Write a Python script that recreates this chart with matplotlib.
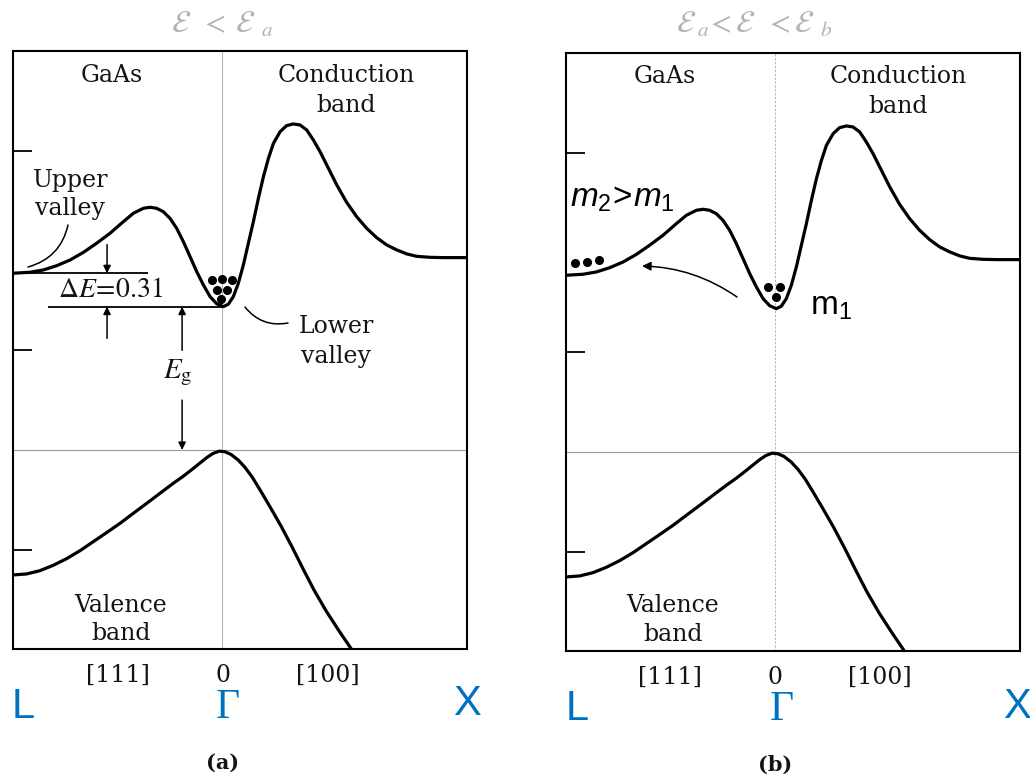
import matplotlib
matplotlib.use("Agg")
import matplotlib.pyplot as plt

W, H = 1030, 779

# k axis: L at -1, Gamma at 0 ; E in eV with the valence band top at 0
cond_k = [-1.000, -0.919, -0.855, -0.791, -0.727, -0.663, -0.600, -0.536, -0.472, -0.424,
          -0.376, -0.344, -0.313, -0.281, -0.249, -0.217, -0.185, -0.153, -0.121, -0.089,
          -0.057, -0.026, 0.006, 0.030, 0.054, 0.078, 0.102, 0.126, 0.150, 0.174,
          0.198, 0.222, 0.246, 0.278, 0.309, 0.341, 0.373, 0.405, 0.437, 0.469,
          0.509, 0.549, 0.596, 0.644, 0.692, 0.740, 0.788, 0.836, 0.884, 0.931,
          0.995, 1.059, 1.172]
cond_E = [1.773, 1.783, 1.806, 1.849, 1.906, 1.983, 2.074, 2.174, 2.291, 2.375,
          2.425, 2.435, 2.425, 2.391, 2.324, 2.224, 2.090, 1.940, 1.789, 1.655,
          1.538, 1.468, 1.438, 1.462, 1.538, 1.672, 1.856, 2.074, 2.291, 2.525,
          2.742, 2.926, 3.077, 3.194, 3.254, 3.271, 3.261, 3.211, 3.110, 2.993,
          2.826, 2.659, 2.485, 2.341, 2.224, 2.130, 2.057, 2.007, 1.967, 1.943,
          1.933, 1.930, 1.930]

val_k = [-1.000, -0.935, -0.871, -0.807, -0.743, -0.679, -0.616, -0.552, -0.488, -0.424,
         -0.360, -0.297, -0.233, -0.187, -0.144, -0.105, -0.072, -0.043, -0.014, 0.014,
         0.043, 0.077, 0.110, 0.144, 0.182, 0.230, 0.282, 0.335, 0.388, 0.440,
         0.498, 0.560, 0.622]
val_E = [-1.254, -1.244, -1.211, -1.157, -1.090, -1.010, -0.920, -0.829, -0.736, -0.635,
         -0.535, -0.435, -0.334, -0.266, -0.196, -0.130, -0.075, -0.035, -0.012, -0.018,
         -0.045, -0.100, -0.175, -0.271, -0.401, -0.572, -0.762, -0.973, -1.194, -1.405,
         -1.615, -1.816, -2.007]

# electrons
dots_a_k = [-0.048, 0.000, 0.048, -0.024, 0.024, -0.005]
dots_a_E = [1.706, 1.711, 1.706, 1.605, 1.605, 1.515]
dots_b_k = [-0.032, 0.024, 0.005, -0.957, -0.901, -0.841]
dots_b_E = [1.659, 1.659, 1.558, 1.893, 1.909, 1.926]

k_labels = ["[111]", "0", "[100]"]
sym_labels = ["L", "Γ", "X"]
energy_ticks = [-1, 1, 3]

E_upper = cond_E[0]
E_lower = min(cond_E)

SERIF = "DejaVu Serif"
BLUE = "#0070C0"
INK = "#141414"

plt.rcParams['mathtext.fontset'] = 'custom'
plt.rcParams['mathtext.rm'] = 'Liberation Sans'
plt.rcParams['mathtext.it'] = 'Liberation Sans:italic'

fig = plt.figure(figsize=(W / 100, H / 100), dpi=100)


def rect(left, top, right, bottom):
    return [left / W, 1 - bottom / H, (right - left) / W, (bottom - top) / H]


def ftext(x, y, s, **kw):
    kw.setdefault('ha', 'center')
    kw.setdefault('va', 'baseline')
    kw.setdefault('color', INK)
    return fig.text(x / W, 1 - y / H, s, **kw)


def setup(ax, dash):
    ax.set_xlim(-1.0, 1.172)
    ax.set_ylim(-2.0, 4.0)
    for s in ax.spines.values():
        s.set_linewidth(1.5)
    ax.set_xticks([])
    ax.set_yticks(energy_ticks)
    ax.tick_params(axis='y', direction='in', length=14, width=1.3, labelleft=False)
    ax.axvline(0, color='#b8b8b8', lw=0.8, ls=dash, zorder=1)
    ax.axhline(0, color='#9a9a9a', lw=0.8, zorder=1)
    ax.plot(cond_k, cond_E, color='black', lw=2.3, solid_joinstyle='round', zorder=3)
    ax.plot(val_k, val_E, color='black', lw=2.3, solid_joinstyle='round', zorder=3)


ax_a = fig.add_axes(rect(13, 51.3, 467, 649.3))
ax_b = fig.add_axes(rect(566, 53.3, 1020, 651.3))
setup(ax_a, '-')
setup(ax_b, (0, (2, 1.5)))

ax_a.plot(dots_a_k, dots_a_E, 'o', color='black', ms=5.5, zorder=4)
ax_b.plot(dots_b_k, dots_b_E, 'o', color='black', ms=5.5, zorder=4)

# ---- panel (a) annotations
ax_a.hlines(E_upper, -1.0, -0.354, color='black', lw=1.3)
ax_a.hlines(E_lower, -0.833, 0.01, color='black', lw=1.3)

arrow = dict(arrowstyle='-|>', lw=1.1, color='black', mutation_scale=11, shrinkA=0, shrinkB=0)
ax_a.annotate('', xy=(-0.550, E_upper), xytext=(-0.550, 2.06), arrowprops=arrow)
ax_a.annotate('', xy=(-0.550, E_lower), xytext=(-0.550, 1.12), arrowprops=arrow)
ax_a.annotate('', xy=(-0.191, E_lower), xytext=(-0.191, 1.00), arrowprops=arrow)
ax_a.annotate('', xy=(-0.191, 0.0), xytext=(-0.191, 0.50), arrowprops=arrow)

leader = dict(arrowstyle='-', lw=1.1, color='black', shrinkA=0, shrinkB=0)
fig_px = lambda x, y: (x, H - y)
ax_a.annotate('', xy=fig_px(28, 267), xytext=fig_px(68, 225), xycoords='figure pixels',
              textcoords='figure pixels',
              arrowprops=dict(leader, connectionstyle='arc3,rad=-0.3'))
ax_a.annotate('', xy=fig_px(288, 323), xytext=fig_px(245, 307), xycoords='figure pixels',
              textcoords='figure pixels',
              arrowprops=dict(leader, connectionstyle='arc3,rad=0.3'))

ftext(223, 33, r'$\mathcal{E}\;\;<\;\mathcal{E}_{\;\;a}$', fontsize=22, color='#b3b3b3',
      math_fontfamily='stix')
ftext(112, 82, "GaAs", family=SERIF, fontsize=17)
ftext(346, 82, "Conduction", family=SERIF, fontsize=17)
ftext(346, 112, "band", family=SERIF, fontsize=17)
ftext(71, 187, "Upper", family=SERIF, fontsize=17)
ftext(70, 215, "valley", family=SERIF, fontsize=17)
ftext(110, 297, r'$\Delta E\!=\!0.31$', fontsize=20, math_fontfamily='stix')
ftext(163, 378, r'$E_{\mathrm{g}}$', ha='left', fontsize=21, math_fontfamily='stix')
ftext(336, 333, "Lower", family=SERIF, fontsize=17)
ftext(336, 363, "valley", family=SERIF, fontsize=17)
ftext(121, 612, "Valence", family=SERIF, fontsize=17)
ftext(121, 640, "band", family=SERIF, fontsize=17)

for x, s in zip([118, 223, 328], k_labels):
    ftext(x, 682, s, family=SERIF, fontsize=17)
ftext(23, 718, sym_labels[0], family='Liberation Sans', fontsize=30, color=BLUE)
ftext(228, 718, sym_labels[1], family='Liberation Serif', fontsize=30, color=BLUE)
ftext(467, 715, sym_labels[2], family='Liberation Sans', fontsize=30, color=BLUE)
ftext(223, 763, "(a)", family=SERIF, fontsize=15, weight='bold', va='center')

# ---- panel (b) annotations
ax_b.annotate('', xy=fig_px(642, 266), xytext=fig_px(737, 297), xycoords='figure pixels',
              textcoords='figure pixels',
              arrowprops=dict(arrowstyle='-|>', lw=1.1, color='black', mutation_scale=13,
                              shrinkA=0, shrinkB=0, connectionstyle='arc3,rad=0.15'))

ftext(754, 33, r'$\mathcal{E}_{\;a}\!<\mathcal{E}\;\;<\mathcal{E}_{\;\;b}$', fontsize=22,
      color='#b3b3b3', math_fontfamily='stix')
ftext(665, 83, "GaAs", family=SERIF, fontsize=17)
ftext(898, 83, "Conduction", family=SERIF, fontsize=17)
ftext(898, 113, "band", family=SERIF, fontsize=17)
ftext(570, 207, r'$m_{\mathrm{2}}\!>\!m_{\mathrm{1}}$', ha='left', fontsize=24, color='black')
ftext(810, 315, r'$\mathrm{m}_{1}$', ha='left', fontsize=24, color='black')
ftext(673, 612, "Valence", family=SERIF, fontsize=17)
ftext(673, 641, "band", family=SERIF, fontsize=17)

for x, s in zip([670, 775, 880], k_labels):
    ftext(x, 684, s, family=SERIF, fontsize=17)
ftext(577, 720, sym_labels[0], family='Liberation Sans', fontsize=30, color=BLUE)
ftext(782, 720, sym_labels[1], family='Liberation Serif', fontsize=30, color=BLUE)
ftext(1017, 718, sym_labels[2], family='Liberation Sans', fontsize=30, color=BLUE)
ftext(775, 765, "(b)", family=SERIF, fontsize=15, weight='bold', va='center')

fig.savefig("out.png", dpi=100)
